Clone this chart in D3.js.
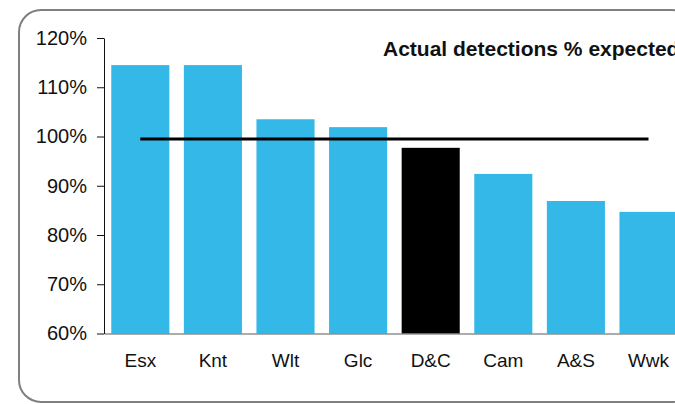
<!DOCTYPE html>
<html>
<head>
<meta charset="utf-8">
<script src="https://cdn.jsdelivr.net/npm/d3@7"></script>
<style>
  html, body { margin: 0; padding: 0; background: #ffffff; }
  svg { display: block; font-family: "Liberation Sans", Arial, sans-serif; }
</style>
</head>
<body>
<script>
const categories = ["Esx", "Knt", "Wlt", "Glc", "D&C", "Cam", "A&S", "Wwk"];
const actualPct = [114.5, 114.5, 103.5, 101.9, 97.7, 92.4, 86.9, 84.7];
const expectedLine = [99.5, 99.5, 99.5, 99.5, 99.5, 99.5, 99.5, 99.5];
const highlight = ["D&C"];
const yTicks = [60, 70, 80, 90, 100, 110, 120];
const title = "Actual detections % expected";

const W = 675, H = 404;
const svg = d3.select("body").append("svg").attr("width", W).attr("height", H);

// frame
svg.append("rect")
  .attr("x", 19).attr("y", 10)
  .attr("width", 675).attr("height", 392)
  .attr("rx", 22).attr("ry", 22)
  .attr("fill", "none").attr("stroke", "#7f7f7f").attr("stroke-width", 2);

const x = d3.scaleBand().domain(categories).range([104, 104 + 8 * 72.6])
  .paddingInner(0.2).paddingOuter(0.1);
const y = d3.scaleLinear().domain([60, 120]).range([333.5, 38]);

// bars
svg.append("g").selectAll("rect").data(categories).join("rect")
  .attr("x", d => x(d))
  .attr("y", (d, i) => y(actualPct[i]))
  .attr("width", x.bandwidth())
  .attr("height", (d, i) => y(60) - y(actualPct[i]))
  .attr("fill", d => highlight.includes(d) ? "#000000" : "#33b8e8");

// x axis
const gx = svg.append("g").attr("transform", `translate(0,${y(60)})`)
  .call(d3.axisBottom(x).tickSize(0).tickPadding(20));
gx.select(".domain").attr("stroke", "#5a5a5a").attr("stroke-width", 1.2);
gx.selectAll("text").attr("font-size", 19).attr("fill", "#111")
  .attr("font-family", "'Liberation Sans', Arial, sans-serif");

// y axis
const gy = svg.append("g").attr("transform", "translate(104,0)")
  .call(d3.axisLeft(y).tickValues(yTicks).tickFormat(d => d + "%").tickSize(7).tickSizeOuter(0).tickPadding(10));
gy.select(".domain").attr("stroke", "#111");
gy.selectAll(".tick line").attr("stroke", "#111");
gy.selectAll("text").attr("font-size", 20).attr("fill", "#111")
  .attr("font-family", "'Liberation Sans', Arial, sans-serif");

// expected line
const line = d3.line()
  .x((d, i) => x(categories[i]) + x.bandwidth() / 2)
  .y(d => y(d));
svg.append("path").datum(expectedLine)
  .attr("d", line)
  .attr("fill", "none").attr("stroke", "#000").attr("stroke-width", 3);

// title
svg.append("text")
  .attr("x", 383).attr("y", 56)
  .attr("font-size", 21).attr("font-weight", "bold").attr("fill", "#111")
  .text(title);
</script>
</body>
</html>
